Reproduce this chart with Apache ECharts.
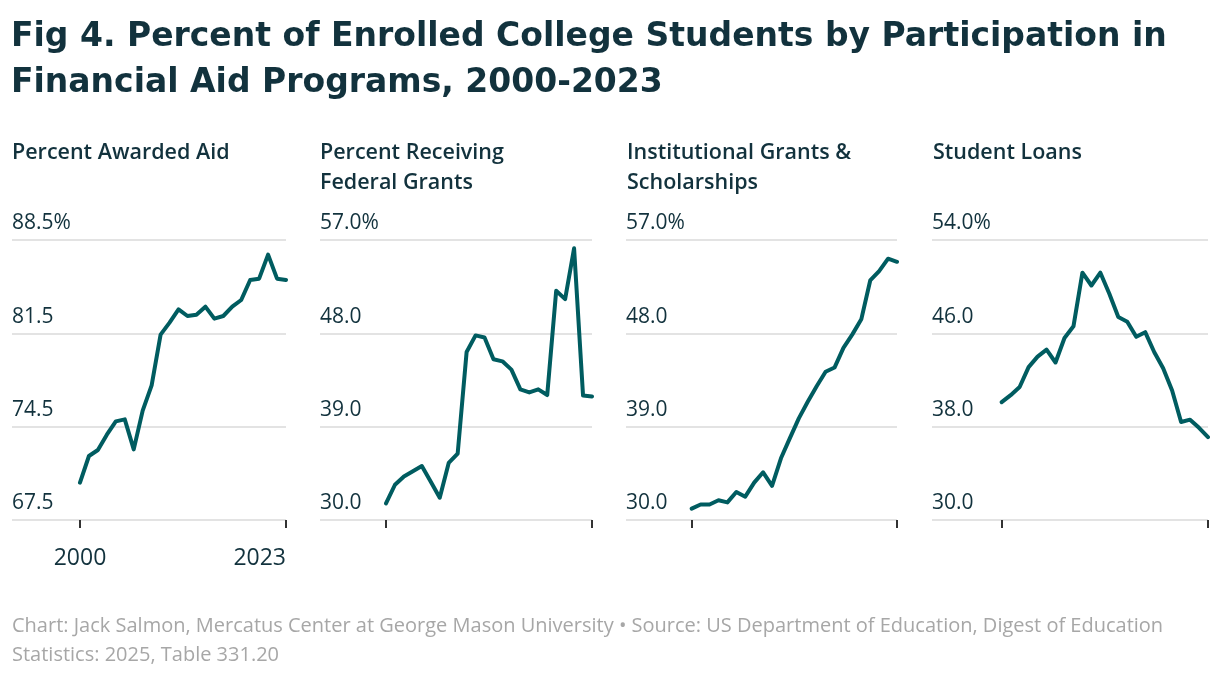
<!DOCTYPE html>
<html>
<head>
<meta charset="utf-8">
<script src="https://cdn.jsdelivr.net/npm/echarts@6/dist/echarts.min.js"></script>
<style>
html,body{margin:0;padding:0;background:#fff;}
#c{width:1220px;height:678px;}
</style>
</head>
<body>
<div id="c"></div>
<script>
var years = [2000,2001,2002,2003,2004,2005,2006,2007,2008,2009,2010,2011,2012,2013,2014,2015,2016,2017,2018,2019,2020,2021,2022,2023];

var awardedAid = [70.3,72.3,72.75,73.9,74.9,75.05,72.8,75.7,77.6,81.4,82.3,83.3,82.8,82.9,83.5,82.6,82.8,83.5,84.0,85.5,85.6,87.4,85.6,85.5];
var federalGrants = [31.6,33.4,34.2,34.7,35.2,33.7,32.15,35.5,36.4,46.2,47.8,47.6,45.5,45.3,44.5,42.6,42.3,42.6,42.05,52.1,51.3,56.2,42.0,41.9];
var institutionalGrants = [31.1,31.5,31.5,31.9,31.7,32.7,32.25,33.6,34.6,33.3,35.95,37.9,39.8,41.4,42.9,44.3,44.7,46.6,47.9,49.35,53.1,54.0,55.2,54.9];
var studentLoans = [40.1,40.7,41.4,43.1,44.0,44.6,43.5,45.6,46.6,51.2,50.1,51.2,49.4,47.4,47.0,45.7,46.1,44.4,43.0,41.1,38.4,38.6,37.9,37.1];

var panelTitles = ['Percent Awarded Aid','Percent Receiving\nFederal Grants','Institutional Grants &\nScholarships','Student Loans'];
var ticks1 = [67.5,74.5,81.5,88.5];
var ticks2 = [30,39,48,57];
var ticks3 = [30,39,48,57];
var ticks4 = [30,38,46,54];
var xTickYears = [2000,2023];

var titleText = 'Fig 4. Percent of Enrolled College Students by Participation in\nFinancial Aid Programs, 2000-2023';
var footerText = 'Chart: Jack Salmon, Mercatus Center at George Mason University \u2022 Source: US Department of Education, Digest of Education\nStatistics: 2025, Table 331.20';

var FONT = 'Open Sans';
var DARK = '#12323d';
var LINE = '#005c60';

var seriesData = [awardedAid, federalGrants, institutionalGrants, studentLoans];
var tickSets = [ticks1, ticks2, ticks3, ticks4];
var gridDefs = [
  {left:12, width:274, titleLeft:12},
  {left:320, width:272, titleLeft:320},
  {left:626, width:271, titleLeft:627},
  {left:932, width:276, titleLeft:933}
];
var xMins = [1992.41, 1992.63, 1992.64, 1992.23];

var grids = [], xAxes = [], yAxes = [], series = [], titles = [];

titles.push({
  text: titleText, left: 11, top: 14, padding: 0,
  textStyle: {fontFamily: 'DejaVu Sans', fontSize: 33, fontWeight: 'bold', color: DARK, lineHeight: 46}
});
titles.push({
  text: footerText, left: 12, top: 612, padding: 0,
  textStyle: {fontFamily: FONT, fontSize: 20, fontWeight: 400, color: '#a7a7a7', lineHeight: 29}
});

for (var i = 0; i < 4; i++) {
  var g = gridDefs[i];
  var tv = tickSets[i];
  titles.push({
    text: panelTitles[i], left: g.titleLeft, top: 138, padding: 0,
    textStyle: {fontFamily: FONT, fontSize: 21.5, fontWeight: 600, color: DARK, lineHeight: 30}
  });
  grids.push({left: g.left, width: g.width, top: 240, height: 280, containLabel: false});
  xAxes.push({
    type: 'value', gridIndex: i, min: xMins[i], max: 2023,
    axisLine: {show: false},
    splitLine: {show: false},
    axisTick: {show: true, customValues: xTickYears, length: 8, lineStyle: {color: '#333', width: 2}},
    axisLabel: {
      show: i === 0, customValues: xTickYears, margin: 27,
      fontFamily: FONT, fontSize: 23, color: DARK, alignMaxLabel: 'right',
      formatter: function (v) { return String(Math.round(v)); }
    }
  });
  (function (tvals) {
    var top = tvals[tvals.length - 1];
    yAxes.push({
      type: 'value', gridIndex: i, min: tvals[0], max: top,
      axisLine: {show: false},
      axisTick: {show: false, customValues: tvals},
      splitLine: {show: true, lineStyle: {color: '#e3e3e3', width: 2}},
      axisLabel: {
        inside: true, margin: 0, customValues: tvals,
        verticalAlign: 'bottom', align: 'left', padding: [0, 0, 6, 0],
        fontFamily: FONT, fontSize: 21, color: DARK,
        formatter: function (v) { return v === top ? v.toFixed(1) + '%' : v.toFixed(1); }
      }
    });
  })(tv);
  var d = [];
  for (var k = 0; k < years.length; k++) d.push([years[k], seriesData[i][k]]);
  series.push({
    type: 'line', xAxisIndex: i, yAxisIndex: i, data: d,
    showSymbol: false, symbol: 'none', smooth: false,
    lineStyle: {color: LINE, width: 4, cap: 'round', join: 'round'},
    animation: false
  });
}

var chart = echarts.init(document.getElementById('c'), null, {renderer: 'canvas'});
chart.setOption({
  animation: false,
  backgroundColor: '#ffffff',
  title: titles,
  grid: grids,
  xAxis: xAxes,
  yAxis: yAxes,
  series: series
});
</script>
</body>
</html>
